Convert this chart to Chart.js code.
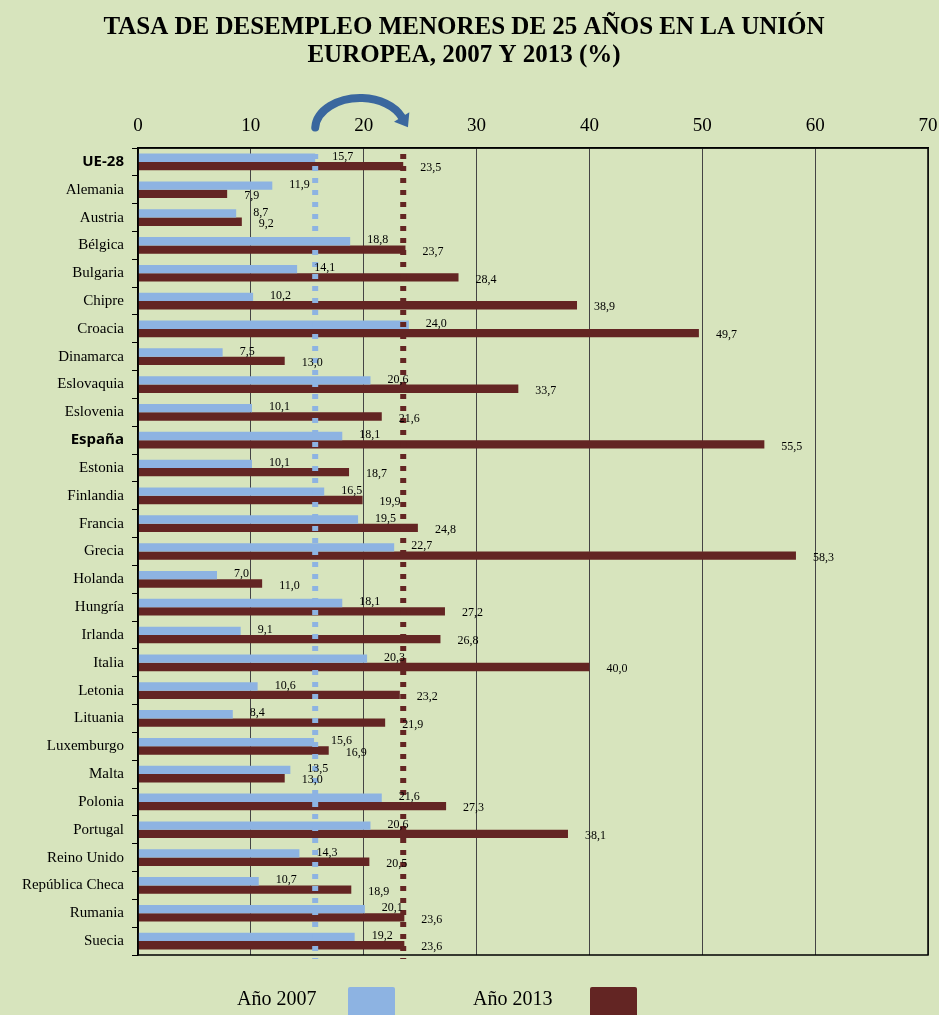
<!DOCTYPE html>
<html>
<head>
<meta charset="utf-8">
<script src="https://cdn.jsdelivr.net/npm/chart.js@4.4.1/dist/chart.umd.min.js"></script>
<style>
  html, body { margin: 0; padding: 0; background: #D7E4BD; }
  #wrap { position: relative; width: 939px; height: 1015px; overflow: hidden; background: #D7E4BD; }
  #grafico { position: absolute; left: 0; top: 0; }
  .leyenda-txt { position: absolute; top: 987px; font-family: 'Liberation Serif', serif; font-size: 20px; color: #000; }
  .leyenda-caja { position: absolute; top: 987px; width: 47px; height: 40px; border-radius: 2px; }
</style>
</head>
<body>
<div id="wrap">
  <canvas id="grafico" width="939" height="1015"></canvas>
  <span class="leyenda-txt" style="left:237px">Año 2007</span>
  <div class="leyenda-caja" style="left:348px;background:#8DB3E2"></div>
  <span class="leyenda-txt" style="left:473px">Año 2013</span>
  <div class="leyenda-caja" style="left:590px;background:#632523"></div>
</div>
<script>
// datos del gráfico
const categorias = ['UE-28', 'Alemania', 'Austria', 'Bélgica', 'Bulgaria', 'Chipre', 'Croacia',
  'Dinamarca', 'Eslovaquia', 'Eslovenia', 'España', 'Estonia', 'Finlandia', 'Francia', 'Grecia',
  'Holanda', 'Hungría', 'Irlanda', 'Italia', 'Letonia', 'Lituania', 'Luxemburgo', 'Malta',
  'Polonia', 'Portugal', 'Reino Unido', 'República Checa', 'Rumania', 'Suecia'];
const valores2007 = [15.7, 11.9, 8.7, 18.8, 14.1, 10.2, 24.0, 7.5, 20.6, 10.1, 18.1, 10.1, 16.5, 19.5, 22.7,
  7.0, 18.1, 9.1, 20.3, 10.6, 8.4, 15.6, 13.5, 21.6, 20.6, 14.3, 10.7, 20.1, 19.2];
const valores2013 = [23.5, 7.9, 9.2, 23.7, 28.4, 38.9, 49.7, 13.0, 33.7, 21.6, 55.5, 18.7, 19.9, 24.8, 58.3,
  11.0, 27.2, 26.8, 40.0, 23.2, 21.9, 16.9, 13.0, 27.3, 38.1, 20.5, 18.9, 23.6, 23.6];
const destacados = ['UE-28', 'España'];
const titulo = ['TASA DE DESEMPLEO MENORES DE 25 AÑOS EN LA UNIÓN', 'EUROPEA, 2007 Y 2013 (%)'];

const AZUL = '#8DB3E2';
const GRANATE = '#632523';

// marco completo del área del gráfico
const marco = {
  id: 'marco',
  afterDraw(chart) {
    const { ctx, chartArea: a } = chart;
    ctx.save();
    ctx.strokeStyle = '#000';
    ctx.lineWidth = 1.5;
    ctx.strokeRect(a.left, a.top, a.right - a.left, a.bottom - a.top);
    ctx.restore();
  }
};

// líneas punteadas con la media UE-28 y flecha entre ellas
const medias = {
  id: 'medias',
  afterDatasetsDraw(chart) {
    const { ctx, chartArea: a } = chart;
    const xs = chart.scales.x;
    const x1 = xs.getPixelForValue(valores2007[0]);
    const x2 = xs.getPixelForValue(valores2013[0]);
    ctx.save();
    ctx.lineWidth = 6;
    ctx.setLineDash([5, 7]);
    [[x1, AZUL], [x2, GRANATE]].forEach(([x, c]) => {
      ctx.strokeStyle = c;
      ctx.beginPath();
      ctx.moveTo(x, a.top + 6);
      ctx.lineTo(x, a.bottom + 4);
      ctx.stroke();
    });
    ctx.setLineDash([]);

    // flecha curva
    const cx = (x1 + x2) / 2 + 1, rx = (x2 - x1) / 2 + 1;
    const cy = a.top - 19, ry = 31;
    const fin = 2 * Math.PI - 0.4;
    ctx.strokeStyle = '#3A679E';
    ctx.fillStyle = '#3A679E';
    ctx.lineWidth = 8;
    ctx.lineCap = 'round';
    ctx.beginPath();
    ctx.ellipse(cx, cy, rx, ry, 0, Math.PI + 0.05, fin);
    ctx.stroke();
    const ex = cx + rx * Math.cos(fin), ey = cy + ry * Math.sin(fin);
    let dx = -rx * Math.sin(fin), dy = ry * Math.cos(fin);
    const n = Math.hypot(dx, dy); dx /= n; dy /= n;
    ctx.beginPath();
    ctx.moveTo(ex + dx * 12, ey + dy * 12);
    ctx.lineTo(ex - dy * 9, ey + dx * 9);
    ctx.lineTo(ex + dy * 9, ey - dx * 9);
    ctx.closePath();
    ctx.fill();
    ctx.restore();
  }
};

// etiquetas de valor con coma decimal
const etiquetas = {
  id: 'etiquetas',
  afterDraw(chart) {
    const ctx = chart.ctx;
    ctx.save();
    ctx.font = '12px "Liberation Serif"';
    ctx.fillStyle = '#000';
    ctx.textBaseline = 'middle';
    chart.data.datasets.forEach((ds, i) => {
      chart.getDatasetMeta(i).data.forEach((bar, j) => {
        const txt = ds.data[j].toFixed(1).replace('.', ',');
        ctx.fillText(txt, bar.x + 17, bar.y + (i === 0 ? -1 : 2));
      });
    });
    ctx.restore();
  }
};

new Chart(document.getElementById('grafico'), {
  type: 'bar',
  data: {
    labels: categorias,
    datasets: [
      { label: 'Año 2007', data: valores2007, backgroundColor: AZUL, categoryPercentage: 0.6, barPercentage: 1 },
      { label: 'Año 2013', data: valores2013, backgroundColor: GRANATE, categoryPercentage: 0.6, barPercentage: 1 },
    ],
  },
  options: {
    indexAxis: 'y',
    responsive: false,
    animation: false,
    layout: { padding: { left: 0, right: 11, top: 0, bottom: 60 } },
    plugins: {
      legend: { display: false },
      tooltip: { enabled: false },
      title: {
        display: true,
        text: titulo,
        color: '#000',
        font: { family: 'Liberation Serif', size: 25, weight: 'bold', lineHeight: 1.12 },
        padding: { top: 14, bottom: 0 },
      },
    },
    scales: {
      x: {
        position: 'top',
        min: 0,
        max: 70,
        ticks: { stepSize: 10, color: '#000', padding: 11, font: { family: 'Liberation Serif', size: 19 } },
        grid: { color: '#444', lineWidth: 1, drawTicks: false },
        border: { color: '#000', width: 1.5 },
        afterFit(s) { s.height = 78; s.paddingRight = 0; s.paddingLeft = 0; },
      },
      y: {
        ticks: {
          autoSkip: false,
          color: '#000',
          padding: 8,
          font: c => destacados.includes(categorias[c.index])
            ? { family: 'Open Sans', size: 15, weight: 'bold' }
            : { family: 'Liberation Serif', size: 15 },
        },
        grid: { drawOnChartArea: false, offset: true, tickLength: 6, color: '#000' },
        border: { color: '#000', width: 1.5 },
        afterFit(s) { s.width = 138; },
      },
    },
  },
  plugins: [marco, medias, etiquetas],
});
</script>
</body>
</html>
